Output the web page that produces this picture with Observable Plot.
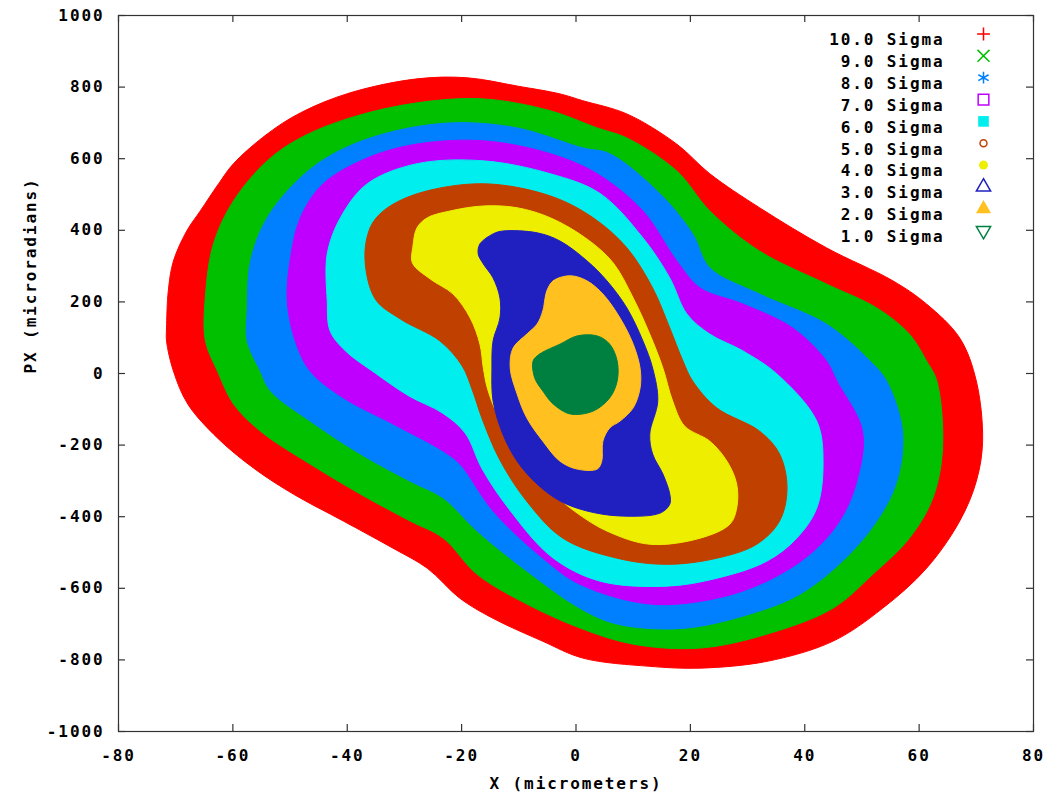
<!DOCTYPE html>
<html><head><meta charset="utf-8">
<script src="https://cdn.jsdelivr.net/npm/d3@7"></script>
<script src="https://cdn.jsdelivr.net/npm/@observablehq/plot@0.6"></script>
<style>body{margin:0;background:#fff}</style>
</head><body><div id="chart"></div>
<script>
const sigmaLabels = ["10.0 Sigma","9.0 Sigma","8.0 Sigma","7.0 Sigma","6.0 Sigma","5.0 Sigma","4.0 Sigma","3.0 Sigma","2.0 Sigma","1.0 Sigma"];
const sigmaColors = ["#ff0000","#00c000","#0080ff","#c000ff","#00eeee","#c04000","#eeee00","#2020c0","#ffc020","#008040"];
const xTicks = [-80,-60,-40,-20,0,20,40,60,80];
const yTicks = [-1000,-800,-600,-400,-200,0,200,400,600,800,1000];
const xLabel = "X (micrometers)";
const yLabel = "PX (microradians)";

// boundary of each sigma region: [X (micrometers), PX (microradians)]
const sigma10 = [[-71.6,91],[-71.6,127],[-71.3,230],[-70.4,314],[-68.0,400],[-65.7,454],[-62.5,530],[-59.9,586],[-54.0,669],[-48.2,728],[-39.5,784],[-27.8,823],[-19.0,826],[-10.3,803],[-2.8,781],[1.2,762],[8.9,725],[17.6,641],[23.4,558],[32.1,463],[43.8,351],[55.4,259],[61.3,194],[67.1,99],[70.0,-21],[71.1,-189],[70.0,-301],[67.1,-412],[61.3,-544],[53.6,-656],[44.9,-748],[33.4,-804],[21.7,-823],[12.9,-818],[1.2,-795],[-5.8,-748],[-14.5,-684],[-20.3,-628],[-26.0,-544],[-32.0,-488],[-40.7,-412],[-49.4,-337],[-56.4,-264],[-62.7,-180],[-67.9,-85],[-70.4,7]];
const sigma9 = [[-64.8,91],[-64.8,217],[-63.4,362],[-59.9,482],[-54.0,594],[-48.2,658],[-39.5,714],[-27.8,756],[-16.2,767],[-4.5,734],[3.7,686],[8.9,658],[17.6,566],[23.4,454],[32.1,342],[43.8,250],[52.6,183],[58.3,110],[61.3,35],[63.1,-21],[64.1,-208],[62.4,-348],[58.3,-460],[51.9,-561],[44.9,-656],[33.4,-728],[21.7,-767],[10.0,-756],[0.7,-711],[-8.6,-644],[-17.3,-561],[-23.2,-460],[-29.0,-412],[-37.7,-337],[-46.5,-253],[-55.2,-161],[-59.9,-85],[-62.7,7]];
const sigma8 = [[-57.5,91],[-57.5,175],[-56.9,315],[-54.0,435],[-48.2,547],[-42.4,614],[-33.7,669],[-22.0,700],[-10.3,686],[1.2,630],[5.9,614],[14.7,502],[20.4,390],[23.4,295],[32.1,222],[43.8,138],[51.4,35],[54.3,-21],[57.1,-161],[56.1,-301],[52.6,-412],[46.6,-524],[39.1,-617],[30.4,-672],[18.7,-712],[7.2,-700],[0.7,-656],[-8.6,-552],[-17.3,-440],[-23.2,-348],[-29.0,-301],[-37.7,-225],[-46.5,-133],[-53.4,-49],[-55.2,7]];
const sigma7 = [[-50.5,203],[-50.0,315],[-48.2,435],[-44.2,530],[-36.5,602],[-27.8,641],[-16.2,650],[-4.5,614],[3.7,558],[11.7,454],[17.6,315],[21.7,239],[29.2,194],[37.9,127],[43.8,35],[45.6,-21],[50.1,-161],[49.1,-301],[46.1,-412],[40.9,-505],[33.4,-580],[24.6,-628],[12.9,-644],[0.7,-589],[-5.8,-516],[-14.5,-384],[-20.3,-253],[-23.2,-217],[-32.0,-141],[-40.7,-68],[-46.5,7],[-49.1,91]];
const sigma6 = [[-43.5,203],[-43.5,334],[-41.2,435],[-36.5,530],[-27.8,586],[-16.2,594],[-4.5,558],[4.2,503],[11.7,379],[16.4,267],[19.4,166],[23.4,110],[29.2,63],[35.1,-1],[42.1,-133],[43.2,-253],[42.1,-376],[38.6,-460],[33.4,-524],[24.6,-572],[15.9,-594],[4.2,-580],[-4.2,-513],[-11.7,-379],[-16.4,-267],[-19.4,-166],[-23.4,-110],[-29.2,-63],[-35.1,1],[-40.3,63],[-43.0,119]];
const sigma5 = [[-36.9,320],[-36.0,407],[-33.7,454],[-27.8,502],[-16.2,530],[-4.5,496],[3.0,435],[8.9,351],[13.4,239],[16.4,127],[18.7,35],[20.4,-21],[24.6,-96],[32.1,-161],[35.6,-225],[36.9,-320],[35.6,-412],[31.6,-477],[24.6,-516],[15.9,-533],[7.2,-516],[-2.3,-460],[-8.9,-351],[-13.4,-239],[-16.4,-127],[-18.2,-43],[-19.9,21],[-23.8,91],[-30.7,152],[-35.1,208]];
const sigma4 = [[-28.6,309],[-28.5,356],[-27.8,407],[-26.0,435],[-22.0,454],[-16.2,468],[-10.3,463],[-4.5,435],[1.9,376],[6.5,309],[10.0,211],[12.9,110],[15.2,15],[16.9,-77],[19.0,-147],[23.4,-189],[26.4,-245],[28.1,-309],[28.1,-376],[26.9,-421],[21.7,-460],[12.9,-477],[5.4,-440],[0.2,-390],[-4.0,-334],[-8.0,-264],[-11.0,-189],[-13.8,-113],[-15.5,-41],[-16.2,15],[-16.8,82],[-18.5,155],[-21.5,222],[-25.5,264]];
const sigma3 = [[-17.1,334],[-16.8,362],[-14.5,390],[-12.8,398],[-6.8,393],[-2.8,370],[1.9,315],[5.4,259],[8.9,183],[11.7,91],[13.4,15],[14.3,-77],[12.9,-169],[13.4,-225],[15.2,-281],[16.4,-337],[16.4,-365],[14.7,-390],[7.7,-398],[1.9,-384],[-2.8,-356],[-6.8,-309],[-10.3,-245],[-12.8,-169],[-14.5,-77],[-14.7,15],[-14.5,91],[-13.3,155],[-13.3,211],[-14.5,267],[-16.2,306]];
const sigma2 = [[-5.1,231],[-4.0,259],[-1.0,273],[1.9,259],[4.7,222],[7.7,155],[10.0,82],[11.2,15],[11.2,-41],[10.0,-96],[7.7,-133],[5.9,-152],[4.7,-189],[4.5,-245],[3.7,-267],[0.2,-267],[-2.8,-245],[-5.8,-189],[-8.6,-124],[-10.3,-57],[-11.5,15],[-11.0,71],[-8.6,110],[-6.8,138],[-5.8,175],[-5.4,211]];
const sigma1 = [[-7.5,35],[-6.3,55],[-2.8,82],[0.2,105],[3.7,105],[5.9,82],[7.2,35],[7.2,-21],[5.9,-68],[3.0,-105],[-1.0,-113],[-4.0,-85],[-5.8,-49],[-7.2,-13]];

const contours = [sigma10, sigma9, sigma8, sigma7, sigma6, sigma5, sigma4, sigma3, sigma2, sigma1];

const invTriangle = {draw(ctx, size) {
  const s = Math.sqrt(size) * 0.6824, t = s / 2, u = s * Math.sqrt(3) / 2;
  ctx.moveTo(0, s); ctx.lineTo(u, -t); ctx.lineTo(-u, -t); ctx.closePath();
}};
const legendSymbols = [
  {symbol: "plus", r: 4.2, fill: "none", stroke: true},
  {symbol: "times", r: 5.5, fill: "none", stroke: true},
  {symbol: "asterisk", r: 5.6, fill: "none", stroke: true},
  {symbol: "square2", r: 6.8, fill: "none", stroke: true},
  {symbol: "square", r: 6, fill: true, stroke: false},
  {symbol: "circle", r: 3.5, fill: "none", stroke: true},
  {symbol: "circle", r: 4.5, fill: true, stroke: false},
  {symbol: "triangle2", r: 6.8, fill: "none", stroke: true},
  {symbol: "triangle", r: 5.6, fill: true, stroke: false},
  {symbol: invTriangle, r: 6.8, fill: "none", stroke: true}
];

const marks = [];
contours.forEach((pts, i) => {
  marks.push(Plot.line(pts, {x: d => d[0], y: d => d[1], curve: "catmull-rom-closed",
    fill: sigmaColors[i], stroke: sigmaColors[i], strokeWidth: 1}));
});
marks.push(Plot.frame({stroke: "#333", strokeWidth: 1.2}));
const innerH = 799 - 15 - 68, innerW = 1054 - 118 - 21, tl = 7;
marks.push(Plot.tickX(xTicks, {x: d => d, insetTop: innerH - tl, stroke: "#333", strokeWidth: 1.2}));
marks.push(Plot.tickX(xTicks, {x: d => d, insetBottom: innerH - tl, stroke: "#333", strokeWidth: 1.2}));
marks.push(Plot.tickY(yTicks, {y: d => d, insetRight: innerW - tl, stroke: "#333", strokeWidth: 1.2}));
marks.push(Plot.tickY(yTicks, {y: d => d, insetLeft: innerW - tl, stroke: "#333", strokeWidth: 1.2}));
marks.push(Plot.axisX(xTicks, {anchor: "bottom", tickSize: 0, tickPadding: 18, label: null, tickFormat: d => String(d), fill: "#000"}));
marks.push(Plot.axisY(yTicks, {anchor: "left", tickSize: 0, tickPadding: 14, label: null, tickFormat: d => String(d), fill: "#000"}));
marks.push(Plot.text([xLabel], {frameAnchor: "bottom", text: d => d, dy: 57, fill: "#000"}));
marks.push(Plot.text([yLabel], {frameAnchor: "left", text: d => d, dx: -88, rotate: -90, fill: "#000"}));
sigmaLabels.forEach((label, i) => {
  marks.push(Plot.text([label], {frameAnchor: "top-right", text: d => d, dx: -89, dy: 18.5 + i * 21.85, textAnchor: "end", fill: "#000"}));
  const s = legendSymbols[i];
  marks.push(Plot.dot([0], {frameAnchor: "top-right", dx: -50, dy: 18.5 + i * 21.85, symbol: s.symbol, r: s.r,
    fill: s.fill === true ? sigmaColors[i] : "none", stroke: s.stroke ? sigmaColors[i] : "none", strokeWidth: 1.5}));
});

const chart = Plot.plot({
  width: 1054, height: 799,
  marginLeft: 118, marginRight: 21, marginTop: 15, marginBottom: 68,
  x: {domain: [-80, 80]},
  y: {domain: [-1000, 1000]},
  style: "font-family: 'DejaVu Sans Mono', monospace; font-size: 16px; font-weight: bold; letter-spacing: 1.9px; background: #fff; color: #000;",
  marks
});
document.getElementById("chart").appendChild(chart);
</script>
</body></html>
